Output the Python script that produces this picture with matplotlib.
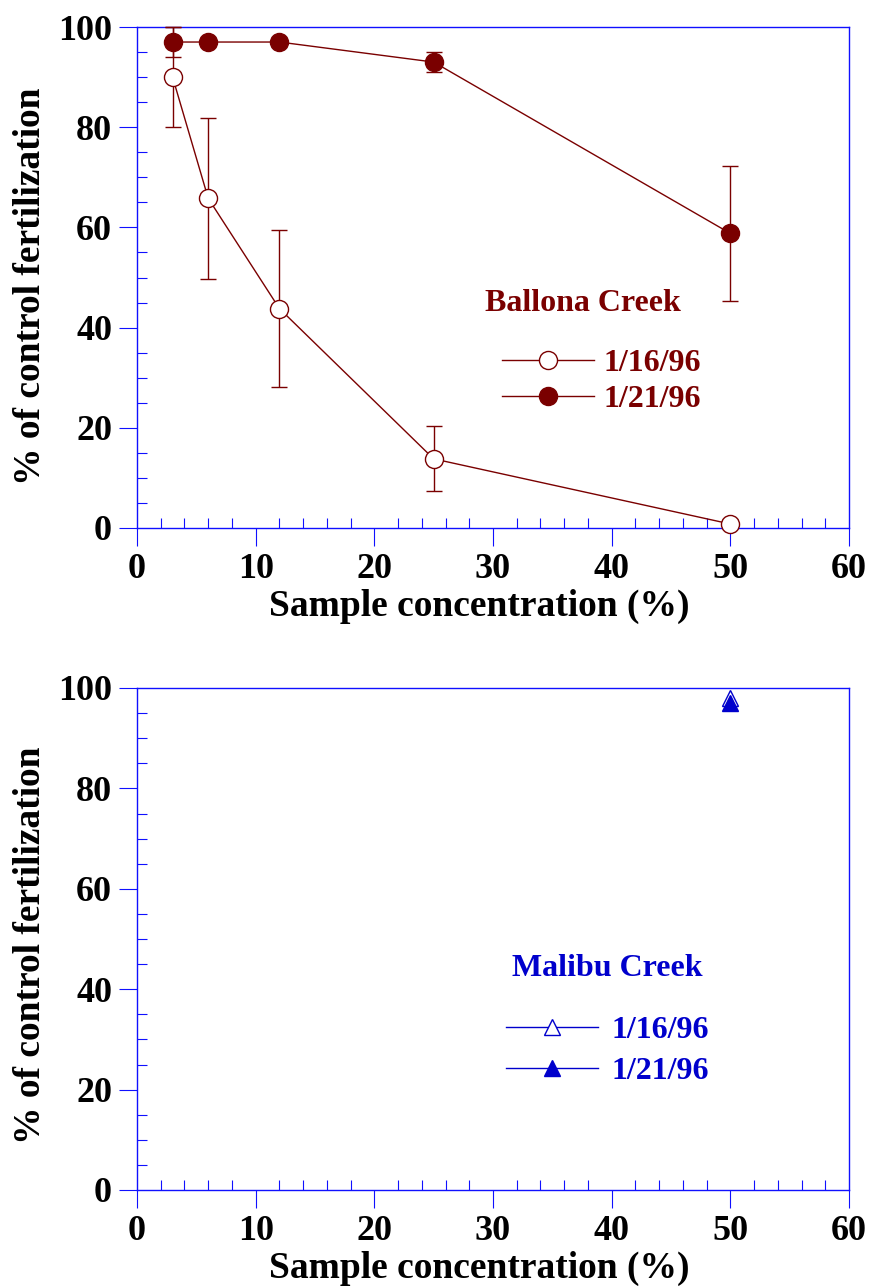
import matplotlib
matplotlib.use("Agg")
import matplotlib.pyplot as plt
from matplotlib.ticker import MultipleLocator

plt.rcParams["font.family"] = ["Liberation Serif", "DejaVu Serif"]
plt.rcParams["font.weight"] = "bold"

# Ballona Creek fertilization results
ballona_conc = [3, 6, 12, 25, 50]
ballona_0116 = [90.0, 65.8, 43.8, 13.8, 0.8]
ballona_0116_err = [10.0, 16.0, 15.7, 6.5, 0.7]
ballona_0121 = [97.0, 97.0, 97.0, 93.0, 58.8]
ballona_0121_err = [3.0, 0.0, 0.0, 2.0, 13.5]

# Malibu Creek fertilization results
malibu_conc = [50]
malibu_0116 = [98.0]
malibu_0121 = [97.0]

xticks = [0, 10, 20, 30, 40, 50, 60]
yticks = [0, 20, 40, 60, 80, 100]

MAROON = "#7a0000"
BLUE = "#0000cc"
AXIS_BLUE = "#1010ff"

fig = plt.figure(figsize=(8.71, 12.88), dpi=100)
ax1 = fig.add_axes([137 / 871, 1 - 528 / 1288, 712 / 871, 501 / 1288])
ax2 = fig.add_axes([137 / 871, 1 - 1190 / 1288, 712 / 871, 502 / 1288])


def style_axes(ax, ylab_y):
    ax.set_xlim(0, 60)
    ax.set_ylim(0, 100)
    ax.set_xticks(xticks)
    ax.set_yticks(yticks)
    ax.xaxis.set_minor_locator(MultipleLocator(2))
    ax.yaxis.set_minor_locator(MultipleLocator(5))
    for s in ax.spines.values():
        s.set_color(AXIS_BLUE)
        s.set_linewidth(1.0)
    ax.tick_params(which="major", direction="out", length=13, width=0.8,
                   color=AXIS_BLUE, labelsize=26, pad=5)
    ax.tick_params(which="minor", direction="in", length=7, width=0.8,
                   color=AXIS_BLUE)
    ax.tick_params(top=False, right=False, which="both")
    for lab in ax.get_xticklabels() + ax.get_yticklabels():
        lab.set_fontweight("bold")
    ax.set_xlabel("Sample concentration (%)", fontsize=27, fontweight="bold",
                  labelpad=2)
    ax.set_ylabel("% of control fertilization", fontsize=27, fontweight="bold",
                  labelpad=7)
    ax.xaxis.label.set_x(0.481)
    ax.yaxis.label.set_y(ylab_y)


style_axes(ax1, 0.483)
style_axes(ax2, 0.488)

# Top panel: Ballona Creek
eb1 = ax1.errorbar(ballona_conc, ballona_0116, yerr=ballona_0116_err,
                   color=MAROON, lw=1.0, elinewidth=1.0, capsize=5.5,
                   capthick=1.0, marker="o", ms=13, mfc="white", mec=MAROON,
                   mew=1.0, clip_on=False, zorder=3)
eb2 = ax1.errorbar(ballona_conc, ballona_0121, yerr=ballona_0121_err,
                   color=MAROON, lw=1.0, elinewidth=1.0, capsize=5.5,
                   capthick=1.0, marker="o", ms=13, mfc=MAROON, mec=MAROON,
                   mew=1.0, clip_on=False, zorder=4)
leg1 = ax1.legend([eb1[0], eb2[0]], ["1/16/96", "1/21/96"], loc="center left",
                  bbox_to_anchor=(0.512, 0.293), frameon=False, fontsize=23,
                  labelcolor=MAROON, handlelength=2.9, handletextpad=0.3,
                  labelspacing=0.22, borderpad=0, borderaxespad=0, numpoints=1)
for t in leg1.get_texts():
    t.set_fontweight("bold")
ax1.text(0.626, 0.449, "Ballona Creek", transform=ax1.transAxes,
         ha="center", va="center", fontsize=23, fontweight="bold", color=MAROON)

# Bottom panel: Malibu Creek
ax2.plot(malibu_conc, malibu_0116, color=BLUE, lw=1.0, marker="^", ms=12,
         mfc="white", mec=BLUE, mew=1.0, zorder=3, label="1/16/96")
ax2.plot(malibu_conc, malibu_0121, color=BLUE, lw=1.0, marker="^", ms=12,
         mfc=BLUE, mec=BLUE, mew=1.0, zorder=4, label="1/21/96")
leg2 = ax2.legend(loc="center left", bbox_to_anchor=(0.518, 0.277),
                  frameon=False, fontsize=23, labelcolor=BLUE,
                  handlelength=2.9, handletextpad=0.4, labelspacing=0.36,
                  borderpad=0, borderaxespad=0, numpoints=1)
for t in leg2.get_texts():
    t.set_fontweight("bold")
ax2.text(0.660, 0.442, "Malibu Creek", transform=ax2.transAxes,
         ha="center", va="center", fontsize=23, fontweight="bold", color=BLUE)

fig.savefig("out.png", dpi=100)
